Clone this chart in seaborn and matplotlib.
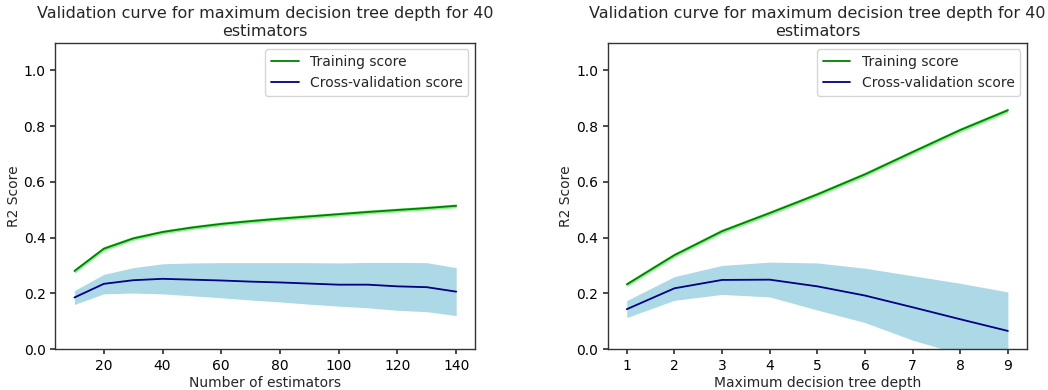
import numpy as np
import pandas as pd
import matplotlib
matplotlib.use("Agg")
import matplotlib.pyplot as plt
import seaborn as sns

# ---- data ----
n_estimators = [10, 20, 30, 40, 50, 60, 70, 80, 90, 100, 110, 120, 130, 140]
est_train_mean = [0.280, 0.360, 0.397, 0.420, 0.436, 0.449, 0.459, 0.468, 0.476, 0.484, 0.492, 0.499, 0.506, 0.514]
est_train_std = [0.008, 0.008, 0.007, 0.007, 0.007, 0.007, 0.007, 0.007, 0.007, 0.007, 0.007, 0.007, 0.007, 0.007]
est_cv_mean = [0.185, 0.234, 0.247, 0.252, 0.249, 0.246, 0.242, 0.239, 0.235, 0.231, 0.231, 0.225, 0.222, 0.206]
est_cv_upper = [0.210, 0.268, 0.292, 0.306, 0.309, 0.310, 0.310, 0.310, 0.310, 0.309, 0.311, 0.311, 0.310, 0.292]
est_cv_lower = [0.160, 0.198, 0.201, 0.198, 0.191, 0.184, 0.176, 0.169, 0.161, 0.154, 0.148, 0.139, 0.134, 0.120]

depths = [1, 2, 3, 4, 5, 6, 7, 8, 9]
depth_train_mean = [0.232, 0.337, 0.423, 0.488, 0.555, 0.627, 0.707, 0.786, 0.857]
depth_train_std = [0.008, 0.008, 0.008, 0.008, 0.008, 0.008, 0.008, 0.008, 0.008]
depth_cv_mean = [0.143, 0.218, 0.248, 0.249, 0.225, 0.192, 0.150, 0.107, 0.065]
depth_cv_upper = [0.174, 0.260, 0.300, 0.312, 0.309, 0.290, 0.263, 0.236, 0.205]
depth_cv_lower = [0.113, 0.175, 0.196, 0.187, 0.140, 0.095, 0.032, -0.018, -0.075]

title_text = "Validation curve for maximum decision tree depth for 40\nestimators"
train_label = "Training score"
cv_label = "Cross-validation score"
ylabel_text = "R2 Score"
xlabels = ["Number of estimators", "Maximum decision tree depth"]

sns.set_theme(style="ticks")
plt.rcParams.update({
    "font.family": ["DejaVu Sans"],
    "axes.edgecolor": "#333333",
    "axes.linewidth": 1.0,
    "xtick.color": "#333333",
    "ytick.color": "#333333",
    "xtick.labelcolor": "black",
    "ytick.labelcolor": "black",
    "xtick.major.size": 3.5,
    "ytick.major.size": 3.5,
})

fig = plt.figure(figsize=(10.48, 3.9), dpi=100)
ax1 = fig.add_axes([0.0528, 0.105, 0.4007, 0.786])
ax2 = fig.add_axes([0.5799, 0.105, 0.4000, 0.786])


def draw(ax, x, tr_m, tr_s, cv_m, cv_lo, cv_hi, xlabel):
    tr_m = np.asarray(tr_m)
    tr_s = np.asarray(tr_s)
    ax.fill_between(x, tr_m - tr_s, tr_m + tr_s, color="lightgreen", lw=0)
    ax.fill_between(x, cv_lo, cv_hi, color="lightblue", lw=0)
    df_tr = pd.DataFrame({"x": x, "y": tr_m})
    df_cv = pd.DataFrame({"x": x, "y": cv_m})
    sns.lineplot(data=df_tr, x="x", y="y", ax=ax, color="green", lw=1.3, label=train_label)
    sns.lineplot(data=df_cv, x="x", y="y", ax=ax, color="navy", lw=1.3, label=cv_label)
    ax.set_ylim(0, 1.1)
    ax.set_title(title_text, fontsize=11.5, pad=5)
    ax.set_xlabel(xlabel, fontsize=10, labelpad=2)
    ax.set_ylabel(ylabel_text, fontsize=10, labelpad=2)
    ax.tick_params(labelsize=10)
    ax.legend(loc="upper right", fontsize=10, frameon=True, fancybox=True,
              framealpha=0.8, edgecolor="#cccccc")


draw(ax1, n_estimators, est_train_mean, est_train_std, est_cv_mean,
     est_cv_lower, est_cv_upper, xlabels[0])
draw(ax2, depths, depth_train_mean, depth_train_std, depth_cv_mean,
     depth_cv_lower, depth_cv_upper, xlabels[1])
ax2.set_xticks(depths)

fig.savefig("out.png", dpi=100)
